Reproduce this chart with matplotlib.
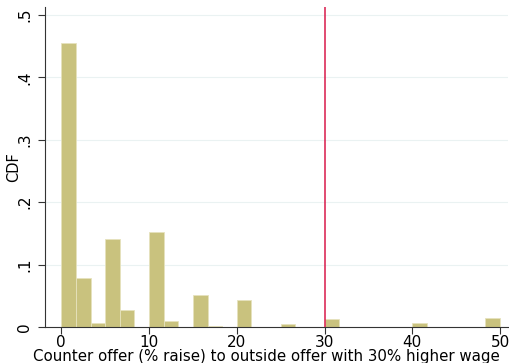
# Histogram of counter offers (Stata-like style)

import numpy as np
import matplotlib
matplotlib.use('Agg')
import matplotlib.pyplot as plt

# Data: left edge of each bin and its fraction
bin_width = 5.0 / 3.0
bin_left = [0, 5/3, 10/3, 5, 20/3, 10, 35/3, 15, 50/3, 20, 25, 30, 40, 145/3]
fraction = [0.455, 0.078, 0.0064, 0.141, 0.028, 0.153, 0.009, 0.051, 0.002,
            0.043, 0.0054, 0.0135, 0.0064, 0.0144]

x_ticks = [0, 10, 20, 30, 40, 50]
y_ticks = [0, 0.1, 0.2, 0.3, 0.4, 0.5]
y_tick_labels = ['0', '.1', '.2', '.3', '.4', '.5']
ref_line = 30

fig = plt.figure(figsize=(5.1, 3.63), dpi=100)
ax = fig.add_axes([0.088, 0.099, 0.908, 0.882])

ax.bar(bin_left, fraction, width=bin_width, align='edge',
       color='#c9c27e', edgecolor='#e6e2bd', linewidth=0.6, zorder=2)
ax.axvline(ref_line, color='#d81a4a', linewidth=1.1, zorder=3)

ax.set_xlim(-1.87, 50.9)
ax.set_ylim(0, 0.513)
ax.set_xticks(x_ticks)
ax.set_yticks(y_ticks)
ax.set_yticklabels(y_tick_labels, rotation=90, va='center')
ax.tick_params(axis='both', labelsize=11, length=5, width=0.8, color='#333333')
ax.tick_params(axis='x', pad=0.5)
ax.tick_params(axis='y', pad=4)

for y in y_ticks[1:]:
    ax.axhline(y, color='#eaf2f2', linewidth=0.8, zorder=1)

ax.spines['top'].set_visible(False)
ax.spines['right'].set_visible(False)
ax.spines['left'].set_color('#333333')
ax.spines['bottom'].set_color('#333333')

ax.set_ylabel('CDF', fontsize=10.5)
ax.yaxis.set_label_coords(-0.052, 0.5)
ax.set_xlabel('Counter offer (% raise) to outside offer with 30% higher wage',
              fontsize=10.8)
ax.xaxis.set_label_coords(0.478, -0.068)

plt.savefig('out.png', dpi=100)
